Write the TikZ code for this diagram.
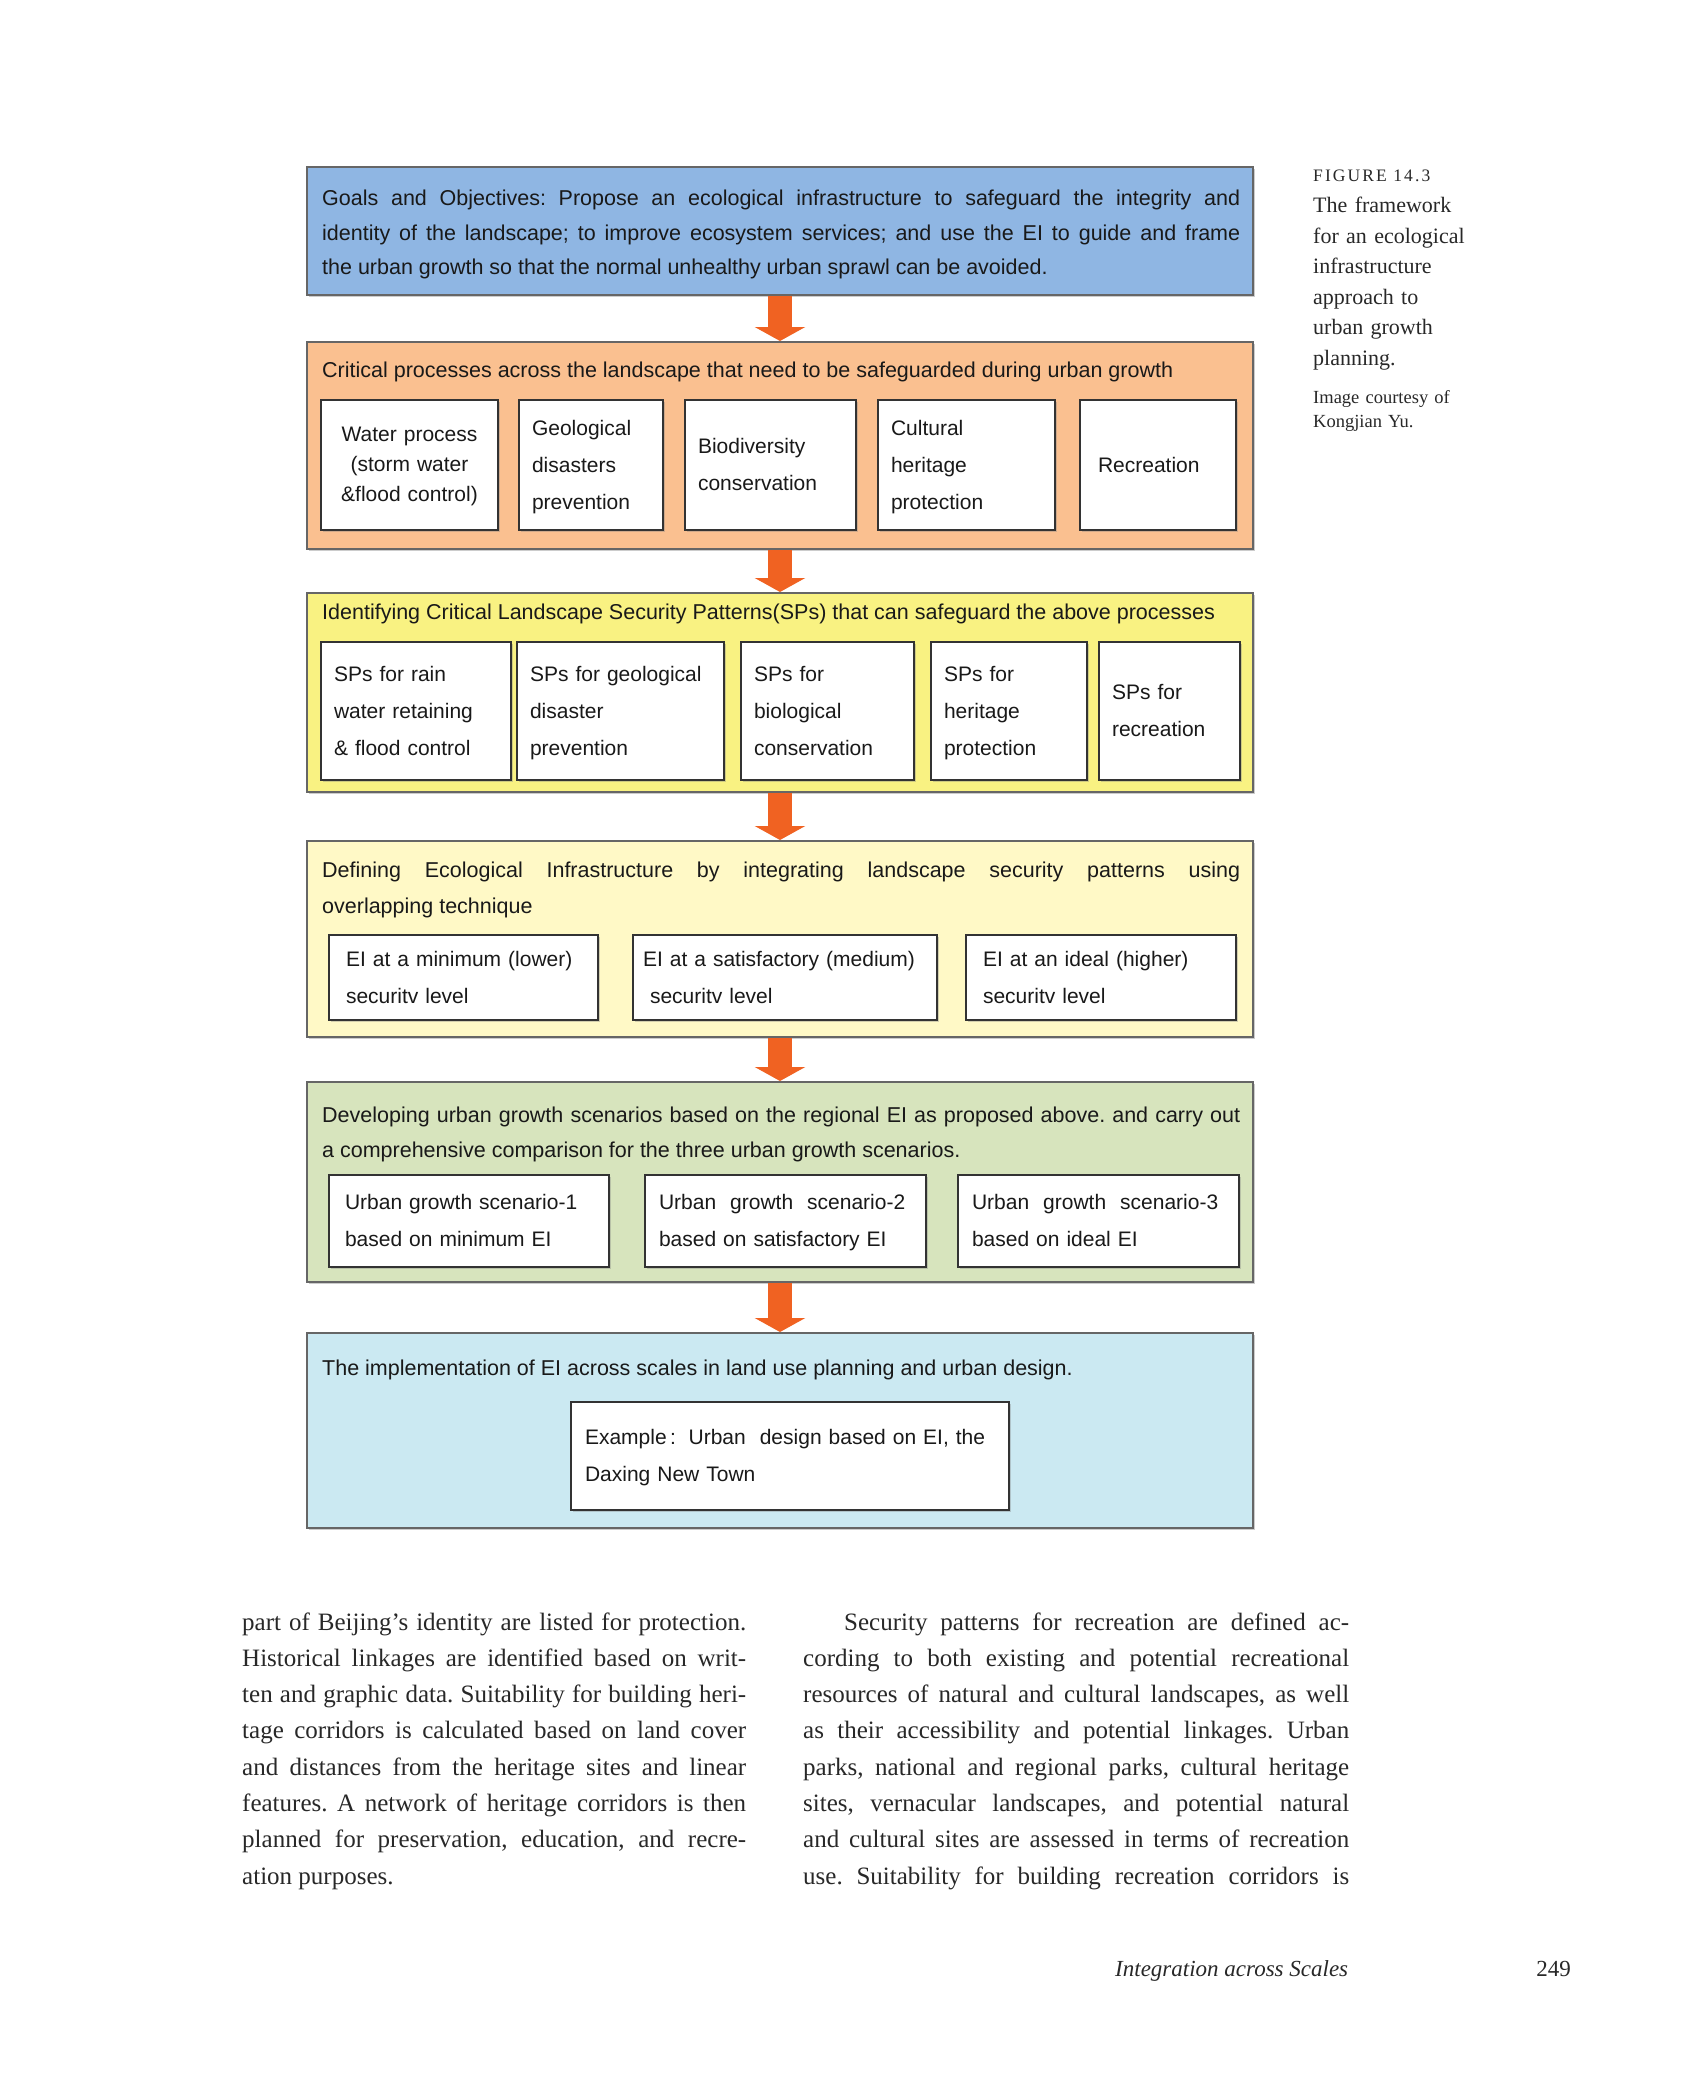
\documentclass[tikz,border=0pt]{standalone}
\usepackage{fontspec}
\setmainfont{Liberation Serif}
\setsansfont{Liberation Sans}
\usetikzlibrary{arrows.meta,shadows}

\definecolor{goalblue}{RGB}{143,182,227}
\definecolor{procorange}{RGB}{250,192,144}
\definecolor{spyellow}{RGB}{249,242,130}
\definecolor{eiyellow}{RGB}{255,249,198}
\definecolor{scengreen}{RGB}{215,228,189}
\definecolor{implblue}{RGB}{203,233,242}
\definecolor{flowred}{RGB}{240,98,34}
\definecolor{inkgray}{RGB}{40,40,40}

\begin{document}
\frenchspacing
\begin{tikzpicture}[x=1pt,y=-1pt,
  panel/.style={draw=black!60,line width=2pt,inner sep=0pt,
    drop shadow={shadow xshift=2pt,shadow yshift=-2pt,opacity=.4}},
  cell/.style={draw=black!80,line width=1.6pt,fill=white,inner xsep=13pt,inner ysep=0pt,
    align=left,text=black!90,font=\sffamily\fontsize{21}{37}\selectfont,
    execute at begin node=\strut,execute at end node=\strut,
    drop shadow={shadow xshift=2pt,shadow yshift=-2pt,opacity=.35}},
  head/.style={anchor=base west,inner sep=0pt,text=black!90,font=\sffamily\fontsize{21.5}{35}\selectfont},
  flow/.style={draw=flowred,line width=24pt,-{Triangle[width=50pt,length=14pt]}},
  body/.style={anchor=base west,inner sep=0pt,align=justify,text=inkgray,font=\fontsize{25}{36.3}\selectfont}]
\useasboundingbox (0,0) rectangle (1700,2100);
\fill[white] (0,0) rectangle (1700,2100);

% panels
\node[panel,fill=goalblue,minimum width=946pt,minimum height=128pt] (goal) at (780,231) {};
\node[panel,fill=procorange,minimum width=946pt,minimum height=207pt] (proc) at (780,445.5) {};
\node[panel,fill=spyellow,minimum width=946pt,minimum height=199pt] (sp) at (780,692.5) {};
\node[panel,fill=eiyellow,minimum width=946pt,minimum height=196pt] (ei) at (780,939) {};
\node[panel,fill=scengreen,minimum width=946pt,minimum height=200pt] (scen) at (780,1182) {};
\node[panel,fill=implblue,minimum width=946pt,minimum height=195pt] (impl) at (780,1430.5) {};

% titles
\node[head,text width=918pt,align=justify,font=\sffamily\fontsize{21.5}{34.5}\selectfont] (goalt) at (322,206)
  {Goals and Objectives: Propose an ecological infrastructure to safeguard the integrity and\linebreak
   identity of the landscape; to improve ecosystem services; and use the EI to guide and frame\linebreak
   the urban growth so that the normal unhealthy urban sprawl can be avoided.};
\node[head] (proct) at (322,377) {Critical processes across the landscape that need to be safeguarded during urban growth};
\node[head] (spt) at (322,619) {Identifying Critical Landscape Security Patterns(SPs) that can safeguard the above processes};
\node[head,text width=918pt,align=justify,font=\sffamily\fontsize{21.5}{36}\selectfont] (eit) at (322,877)
  {Defining Ecological Infrastructure by integrating landscape security patterns using\linebreak
   overlapping technique};
\node[head,text width=918pt,align=justify] (scent) at (322,1122)
  {Developing urban growth scenarios based on the regional EI as proposed above. and carry out\linebreak
   a comprehensive comparison for the three urban growth scenarios.};
\node[head] (implt) at (322,1375) {The implementation of EI across scales in land use planning and urban design.};

% processes
\node[cell,align=center,inner xsep=10pt,text width=157pt,minimum height=130pt,font=\sffamily\fontsize{21}{30}\selectfont] (proc1) at (409.5,465) {Water process\\(storm water\\\&flood control)};
\node[cell,text width=118pt,minimum height=130pt] (proc2) at (591,465) {Geological\\disasters\\prevention};
\node[cell,text width=145pt,minimum height=130pt] (proc3) at (770.5,465) {Biodiversity\\conservation};
\node[cell,text width=151pt,minimum height=130pt] (proc4) at (966.5,465) {Cultural\\heritage\\protection};
\node[cell,inner xsep=18pt,text width=120pt,minimum height=130pt] (proc5) at (1158,465) {Recreation};

% security patterns
\node[cell,text width=164pt,minimum height=138pt] (sp1) at (416,711) {SPs for rain\\water retaining\\\& flood control};
\node[cell,text width=181pt,minimum height=138pt] (sp2) at (620.5,711) {SPs for geological\\disaster\\prevention};
\node[cell,text width=147pt,minimum height=138pt] (sp3) at (827.5,711) {SPs for\\biological\\conservation};
\node[cell,text width=130pt,minimum height=138pt] (sp4) at (1009,711) {SPs for\\heritage\\protection};
\node[cell,text width=115pt,minimum height=138pt] (sp5) at (1169.5,711) {SPs for\\recreation};

% EI levels
\node[cell,inner xsep=17pt,text width=235pt,minimum height=85pt] (ei1) at (463.5,977.5) {EI at a minimum (lower)\\securitv level};
\node[cell,inner xsep=10pt,text width=284pt,minimum height=85pt] (ei2) at (785,977.5) {EI at a satisfactory (medium)\\\ securitv level};
\node[cell,inner xsep=17pt,text width=236pt,minimum height=85pt] (ei3) at (1101,977.5) {EI at an ideal (higher)\\securitv level};

% scenarios
\node[cell,inner xsep=16pt,text width=248pt,minimum height=92pt] (scen1) at (469,1221) {Urban growth scenario-1\\based on minimum EI};
\node[cell,inner xsep=14pt,text width=253pt,minimum height=92pt] (scen2) at (785.5,1221) {Urban\ \ growth\ \ scenario-2\\based on satisfactory EI};
\node[cell,inner xsep=14pt,text width=253pt,minimum height=92pt] (scen3) at (1098.5,1221) {Urban\ \ growth\ \ scenario-3\\based on ideal EI};

% example
\node[cell,inner xsep=14pt,text width=410pt,minimum height=108pt] (ex) at (790,1456) {Example\,:\hspace{0.6em}Urban\ \ design based on EI, the\\Daxing New Town};

\draw[flow] (goal.south) -- (proc.north);
\draw[flow] (proc.south) -- (sp.north);
\draw[flow] (sp.south) -- (ei.north);
\draw[flow] (ei.south) -- (scen.north);
\draw[flow] (scen.south) -- (impl.north);

% caption
\node[anchor=base west,inner sep=0pt,text=inkgray,font=\fontsize{17.5}{20}\selectfont\addfontfeature{LetterSpace=12}] (fig) at (1313,182) {FIGURE 14.3};
\node[anchor=base west,inner sep=0pt,text width=240pt,align=left,text=inkgray,font=\fontsize{22}{30.5}\selectfont] (cap) at (1313,213)
  {The framework\\for an ecological\\infrastructure\\approach to\\urban growth\\planning.};
\node[anchor=base west,inner sep=0pt,text width=240pt,align=left,text=inkgray,font=\fontsize{18.5}{24.5}\selectfont] (credit) at (1313,403)
  {Image courtesy of\\Kongjian Yu.};

% text columns
\node[body,text width=504pt] (leftcol) at (242,1630)
  {part of Beijing’s identity are listed for protection.\linebreak
   Historical linkages are identified based on writ-\linebreak
   ten and graphic data. Suitability for building heri-\linebreak
   tage corridors is calculated based on land cover\linebreak
   and distances from the heritage sites and linear\linebreak
   features. A network of heritage corridors is then\linebreak
   planned for preservation, education, and recre-\linebreak
   ation purposes.};
\node[body,text width=546pt] (rightcol) at (803,1630)
  {\hspace*{41pt}Security patterns for recreation are defined ac-\linebreak
   cording to both existing and potential recreational\linebreak
   resources of natural and cultural landscapes, as well\linebreak
   as their accessibility and potential linkages. Urban\linebreak
   parks, national and regional parks, cultural heritage\linebreak
   sites, vernacular landscapes, and potential natural\linebreak
   and cultural sites are assessed in terms of recreation\linebreak
   use. Suitability for building recreation corridors is\linebreak};

% footer
\node[anchor=base west,inner sep=0pt,text=inkgray,font=\itshape\fontsize{23}{28}\selectfont] (runhead) at (1115,1976) {Integration across Scales};
\node[anchor=base east,inner sep=0pt,text=inkgray,font=\fontsize{23}{28}\selectfont] (folio) at (1571,1976) {249};
\end{tikzpicture}
\end{document}
